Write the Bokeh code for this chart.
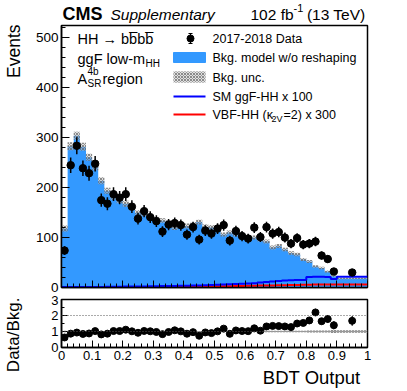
import numpy as np
from bokeh.plotting import figure
from bokeh.layouts import column
from bokeh.models import Range1d, Label, FixedTicker, Span, CustomLabelingPolicy
from bokeh.embed import file_html
from bokeh.resources import INLINE

# ---------------- data ----------------
bin_edges = [0.00, 0.02, 0.04, 0.06, 0.08, 0.10, 0.12, 0.14, 0.16, 0.18,
             0.20, 0.22, 0.24, 0.26, 0.28, 0.30, 0.32, 0.34, 0.36, 0.38,
             0.40, 0.42, 0.44, 0.46, 0.48, 0.50, 0.52, 0.54, 0.56, 0.58,
             0.60, 0.62, 0.64, 0.66, 0.68, 0.70, 0.72, 0.74, 0.76, 0.78,
             0.80, 0.82, 0.84, 0.86, 0.88, 0.90, 1.00]
bkg_model = [118, 283, 304, 282, 261, 242, 214, 194, 182, 175,
             168, 160, 150, 148, 139, 137, 134, 130, 120, 124,
             123, 126, 131, 121, 120, 117, 106, 110, 106, 100,
             96, 100, 96, 92, 80, 83, 76, 69, 66, 56,
             52, 42, 39, 32, 23, 18]
bkg_unc = [6, 8, 8, 8, 7, 7, 7, 6, 6, 6,
           6, 5, 5, 5, 5, 5, 5, 5, 5, 5,
           5, 5, 5, 5, 5, 5, 4, 4, 4, 4,
           4, 4, 4, 4, 4, 4, 3.5, 3.5, 3.5, 3,
           3, 2.5, 2.5, 2, 2, 1.5]
data_counts = [74, 245, 284, 239, 229, 248, 175, 168, 187, 180,
               187, 162, 138, 153, 141, 133, 112, 126, 129, 125,
               106, 121, 96, 114, 108, 118, 125, 94, 113, 103,
               98, 120, 101, 121, 108, 111, 100, 88, 99, 86,
               88, 92, 64, 57, 32, 30]
sig_ggf_x100 = [1, 1, 1, 1, 1, 1, 1, 1.5, 1.5, 1.5,
                2, 2, 2, 2, 2.5, 2.5, 3, 3, 3, 3.5,
                3.5, 4, 4, 4.5, 5, 5.5, 6, 6.5, 7, 7.5,
                8, 8.5, 10, 11, 12, 13, 14, 14.5, 15, 15,
                21, 21.5, 21.5, 21, 17, 21.5]
sig_vbf_x300 = [0.3, 0.3, 0.3, 0.4, 0.4, 0.5, 0.5, 0.5, 0.6, 0.6,
                0.7, 0.8, 0.8, 0.9, 1, 1, 1.1, 1.2, 1.3, 1.4,
                1.5, 1.6, 1.8, 2, 2.1, 2.3, 2.5, 2.7, 3, 3.2,
                3.4, 3.6, 3.8, 4, 4.2, 4.5, 4.7, 5, 5.2, 5.4,
                5.6, 5.8, 6, 6, 6, 6.2]
x_ticks = [0.0, 0.1, 0.2, 0.3, 0.4, 0.5, 0.6, 0.7, 0.8, 0.9, 1.0]
x_tick_labels = ["0", "0.1", "0.2", "0.3", "0.4", "0.5", "0.6", "0.7", "0.8", "0.9", "1"]
main_y_ticks = [0, 100, 200, 300, 400, 500]
ratio_y_ticks = [0, 1, 2, 3]

FONT = "Liberation Sans"
BLUE_FILL = "#3399ff"
BAND_FILL = "#bbbbbb"
BAND_HATCH = "#606060"

edges = np.array(bin_edges, dtype=float)
left = edges[:-1]
right = edges[1:]
centers = 0.5 * (left + right)
bkg = np.array(bkg_model, dtype=float)
unc = np.array(bkg_unc, dtype=float)
dat = np.array(data_counts, dtype=float)
err = np.sqrt(dat)
ratio = dat / bkg
ratio_err = err / bkg
rel_unc = unc / bkg
ggf = np.array(sig_ggf_x100, dtype=float)
vbf = np.array(sig_vbf_x300, dtype=float)

# ---------------- layout (picture pixels) ----------------
W = 400
YMAX = 525
FX0, FX1 = 61, 367               # frames, horizontally
HEAD_H = 24                      # y 0..24
M_TOP, M_FR, M_BOT = 1, 262, 8   # main frame y 25..287
R_TOP, R_FR, R_BOT = 4, 48, 43   # ratio frame y 299..347
M_FY1 = HEAD_H + M_TOP + M_FR
R_FY1 = M_FY1 + M_BOT + R_TOP + R_FR
BASE_FIX = 4.5                   # alphabetic-baseline correction, px


def mx(px):
    return (px - FX0) / float(FX1 - FX0)


def my(py):
    return (M_FY1 - py) * YMAX / float(M_FR)


def ry(py):
    return (R_FY1 - py) * 3 / float(R_FR)


minor_x = [round(0.02 * i, 2) for i in range(51)]


def style_axis(ax, major_in, minor_in, font_size, standoff=3):
    ax.major_tick_in = major_in
    ax.major_tick_out = 0
    ax.minor_tick_in = minor_in
    ax.minor_tick_out = 0
    ax.axis_line_width = 1.5
    ax.axis_line_color = "black"
    ax.major_tick_line_color = "black"
    ax.minor_tick_line_color = "black"
    ax.major_label_text_font = FONT
    ax.major_label_text_font_size = font_size
    ax.major_label_text_color = "black"
    ax.major_label_standoff = standoff


def lab(fig, x, y, text, size, align="left", baseline="middle", style="normal", angle=0, place=None):
    lbl = Label(x=x, y=y, text=text, text_font=FONT, text_font_size=size,
                text_align=align, text_baseline=baseline, text_font_style=style,
                text_color="black", angle=angle)
    if place is None:
        fig.add_layout(lbl)
    else:
        fig.add_layout(lbl, place)


# ---------------- header strip ----------------
head = figure(width=W, height=HEAD_H, x_range=Range1d(0, 1), y_range=Range1d(0, HEAD_H),
              output_backend="svg", toolbar_location=None, min_border=0,
              min_border_left=FX0, min_border_right=W - FX1,
              x_axis_location=None, y_axis_location=None)
head.grid.visible = False
head.outline_line_color = None
HB = HEAD_H - 18 + BASE_FIX  # baseline at picture y 18
lab(head, mx(62), HB, "CMS", "18px", baseline="alphabetic", style="bold")
lab(head, mx(110), HB, "Supplementary", "15.5px", baseline="alphabetic", style="italic")
lab(head, mx(250), HB, "102 fb", "15.5px", baseline="alphabetic")
lab(head, mx(293), HB + 6, "-1", "11px", baseline="alphabetic")
lab(head, mx(365), HB, "(13 TeV)", "15.5px", align="right", baseline="alphabetic")

# ---------------- main panel ----------------
p = figure(width=W, height=M_TOP + M_FR + M_BOT, x_range=Range1d(0, 1), y_range=Range1d(0, YMAX),
           output_backend="svg", toolbar_location=None,
           min_border_left=FX0, min_border_right=W - FX1, min_border_top=M_TOP, min_border_bottom=M_BOT)
p.grid.visible = False
p.outline_line_color = "black"
p.outline_line_width = 1.5
p.xaxis.ticker = FixedTicker(ticks=x_ticks, minor_ticks=minor_x)
style_axis(p.xaxis[0], 7, 4, "1px", standoff=0)
p.xaxis.major_label_policy = CustomLabelingPolicy(code="return new Set()")
p.yaxis.ticker = FixedTicker(ticks=main_y_ticks, minor_ticks=list(range(0, 521, 20)))
style_axis(p.yaxis[0], 8, 4, "13.5px")

p.varea_step(x=edges, y1=np.zeros(len(edges)), y2=np.append(bkg, bkg[-1]), step_mode="after",
             fill_color=BLUE_FILL)
p.quad(left=left, right=right, bottom=bkg - unc, top=bkg + unc,
       fill_color=BAND_FILL, fill_alpha=0.45, line_color=None,
       hatch_pattern="diagonal_cross", hatch_color=BAND_HATCH, hatch_scale=3,
       hatch_weight=0.8, hatch_alpha=0.85)
p.step(x=edges, y=np.append(vbf, vbf[-1]), mode="after", line_color="#ff0000", line_width=2)
p.step(x=edges, y=np.append(ggf, ggf[-1]), mode="after", line_color="#0000ff", line_width=2)
p.segment(x0=centers, y0=dat - err, x1=centers, y1=dat + err, line_color="black", line_width=1.5)
p.scatter(centers, dat, size=7.5, color="black")

# legend (drawn by hand, ROOT style)
lx0, lx1 = mx(173), mx(205)
p.segment(x0=[mx(190)], y0=[my(43)], x1=[mx(190)], y1=[my(33)], line_color="black", line_width=1.2)
p.segment(x0=[mx(188), mx(188)], y0=[my(43), my(33)], x1=[mx(192), mx(192)], y1=[my(43), my(33)],
          line_color="black", line_width=1.2)
p.scatter([mx(190)], [my(38)], size=7, color="black")
p.quad(left=[lx0], right=[lx1], bottom=[my(62)], top=[my(52)], fill_color=BLUE_FILL, line_color=BLUE_FILL)
p.quad(left=[lx0], right=[lx1], bottom=[my(82)], top=[my(71)], fill_color=BAND_FILL, fill_alpha=0.45,
       line_color=None, hatch_pattern="diagonal_cross", hatch_color=BAND_HATCH, hatch_scale=3,
       hatch_weight=0.8, hatch_alpha=0.85)
p.line([lx0, lx1], [my(96), my(96)], line_color="#0000ff", line_width=2)
p.line([lx0, lx1], [my(114), my(114)], line_color="#ff0000", line_width=2)

LEG = "12.5px"
lab(p, mx(212), my(38), "2017-2018 Data", LEG)
lab(p, mx(212), my(57), "Bkg. model w/o reshaping", LEG)
lab(p, mx(212), my(77), "Bkg. unc.", LEG)
lab(p, mx(212), my(96), "SM ggF-HH x 100", LEG)
lab(p, mx(212), my(114), "VBF-HH (\u03ba", LEG)
lab(p, mx(271), my(118), "2V", "9px")
lab(p, mx(283), my(114), "=2) x 300", LEG)

TXT = "14.5px"
lab(p, mx(77), my(38), "HH \u2192 bb\u0305bb\u0305", TXT)
lab(p, mx(77), my(58), "ggF low-m", TXT)
lab(p, mx(145), my(63), "HH", "10px")
lab(p, mx(77), my(78), "A", TXT)
lab(p, mx(87), my(71), "4b", "10px")
lab(p, mx(87), my(83), "SR", "10px")
lab(p, mx(102), my(78), "region", TXT)

lab(p, mx(13), my(24), "Events", "17.5px", align="right", angle=np.pi / 2, place="left")

# ---------------- ratio panel ----------------
r = figure(width=W, height=R_TOP + R_FR + R_BOT, x_range=p.x_range, y_range=Range1d(0, 3),
           output_backend="svg", toolbar_location=None,
           min_border_left=FX0, min_border_right=W - FX1, min_border_top=R_TOP, min_border_bottom=R_BOT)
r.grid.visible = False
r.outline_line_color = "black"
r.outline_line_width = 1.5
r.xaxis.ticker = FixedTicker(ticks=x_ticks, minor_ticks=minor_x)
r.xaxis.major_label_overrides = {t: s for t, s in zip(x_ticks, x_tick_labels)}
style_axis(r.xaxis[0], 7, 4, "13px", standoff=3)
r.yaxis.ticker = FixedTicker(ticks=ratio_y_ticks, minor_ticks=[0.5, 1.5, 2.5])
style_axis(r.yaxis[0], 6, 3, "13px")

r.add_layout(Span(location=2, dimension="width", line_color="#555555", line_dash="1 2", line_width=1))
r.add_layout(Span(location=1, dimension="width", line_color="#555555", line_dash="1 2", line_width=1))
r.quad(left=left, right=right, bottom=1 - rel_unc, top=1 + rel_unc,
       fill_color=BAND_FILL, fill_alpha=0.45, line_color=None,
       hatch_pattern="diagonal_cross", hatch_color=BAND_HATCH, hatch_scale=3,
       hatch_weight=0.8, hatch_alpha=0.85)
r.segment(x0=centers, y0=ratio - ratio_err, x1=centers, y1=ratio + ratio_err,
          line_color="black", line_width=1.2)
r.scatter(centers, ratio, size=7, color="black")

lab(r, mx(13), ry(297), "Data/Bkg.", "17px", align="right", angle=np.pi / 2, place="left")
lab(r, mx(360), ry(381 - BASE_FIX), "BDT Output", "18.5px", align="right", baseline="alphabetic",
    place="below")

layout = column(head, p, r, spacing=0)
open("out.html", "w").write(file_html(layout, INLINE))
